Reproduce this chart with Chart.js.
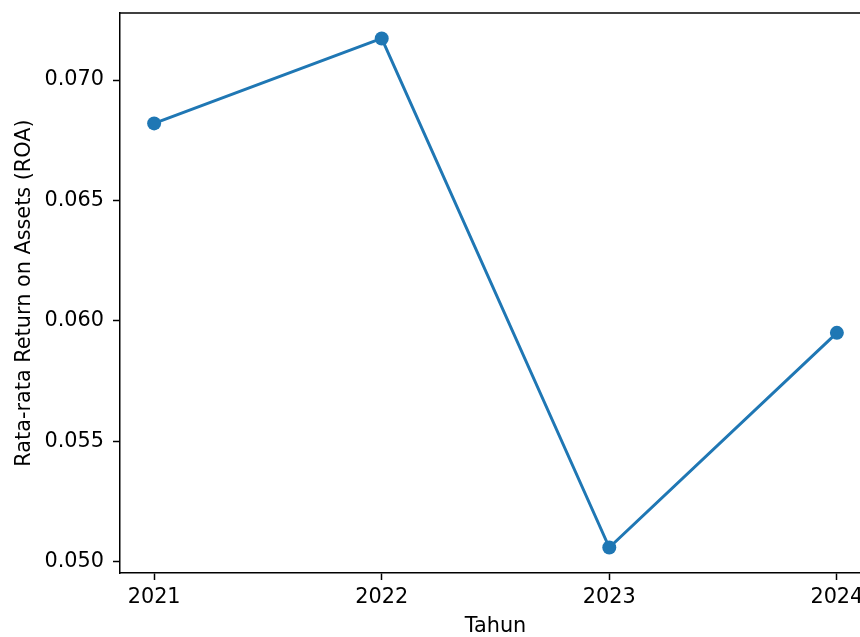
<!DOCTYPE html>
<html>
<head>
<meta charset="utf-8">
<style>
  html, body { margin: 0; padding: 0; background: #fff; overflow: hidden; width: 860px; height: 637px; }
  #wrap { position: relative; width: 860px; height: 637px; overflow: hidden; background: #fff; }
  #wrap canvas { position: absolute; left: 0; top: 0; display: block; }
</style>
<script src="https://cdn.jsdelivr.net/npm/chart.js@4/dist/chart.umd.min.js"></script>
</head>
<body>
<div id="wrap"><canvas id="roaChart" width="880" height="637" style="width:880px;height:637px"></canvas></div>
<script>
// Average Return on Assets per year
const years = [2021, 2022, 2023, 2024];
const roaValues = [0.0682, 0.07173, 0.05058, 0.0595];
const yTickValues = [0.050, 0.055, 0.060, 0.065, 0.070];
const xTitle = 'Tahun';
const yTitle = 'Rata-rata Return on Assets (ROA)';

const lineColor = '#1f77b4';
const fontFamily = '"DejaVu Sans", sans-serif';
const fontSize = 20.8;

// axis limits with a 5% margin around the data
const yMin = Math.min(...roaValues), yMax = Math.max(...roaValues);
const yPad = (yMax - yMin) * 0.05;
const xPad = (years[years.length - 1] - years[0]) * 0.05;

// draws the top spine of the plot frame (the right one lies outside the view)
const framePlugin = {
  id: 'frame',
  afterDraw(chart) {
    const { ctx, chartArea: a } = chart;
    ctx.save();
    ctx.strokeStyle = '#000';
    ctx.lineWidth = 1.5;
    ctx.beginPath();
    ctx.moveTo(a.left, a.top);
    ctx.lineTo(a.right, a.top);
    ctx.stroke();
    ctx.restore();
  }
};

new Chart(document.getElementById('roaChart'), {
  type: 'line',
  data: {
    datasets: [{
      data: years.map((y, i) => ({ x: y, y: roaValues[i] })),
      borderColor: lineColor,
      backgroundColor: lineColor,
      borderWidth: 3,
      tension: 0,
      pointRadius: 7,
      pointHoverRadius: 7,
      pointBackgroundColor: lineColor,
      pointBorderWidth: 0,
      fill: false
    }]
  },
  options: {
    responsive: false,
    maintainAspectRatio: false,
    devicePixelRatio: 1,
    animation: false,
    layout: { padding: { top: 13, right: 9, left: 0, bottom: 0 } },
    plugins: { legend: { display: false }, tooltip: { enabled: false } },
    scales: {
      x: {
        type: 'linear',
        min: years[0] - xPad,
        max: years[years.length - 1] + xPad,
        afterBuildTicks: s => { s.ticks = years.map(v => ({ value: v })); },
        afterFit: s => { s.height = 64; s.paddingLeft = 0; s.paddingRight = 0; },
        ticks: {
          color: '#000',
          font: { family: fontFamily, size: fontSize },
          padding: 5,
          maxRotation: 0,
          callback: v => String(v)
        },
        grid: { drawOnChartArea: false, drawTicks: true, tickLength: 7, tickWidth: 1.5, tickColor: '#000', color: '#000' },
        border: { display: true, color: '#000', width: 1.5 },
        title: {
          display: true,
          text: xTitle,
          color: '#000',
          font: { family: fontFamily, size: fontSize, lineHeight: 1 },
          padding: { top: 0, bottom: 0 }
        }
      },
      y: {
        type: 'linear',
        min: yMin - yPad,
        max: yMax + yPad,
        afterBuildTicks: s => { s.ticks = yTickValues.map(v => ({ value: v })); },
        afterFit: s => { s.width = 120; s.paddingTop = 0; s.paddingBottom = 0; },
        ticks: {
          color: '#000',
          font: { family: fontFamily, size: fontSize },
          padding: 9,
          callback: v => v.toFixed(3)
        },
        grid: { drawOnChartArea: false, drawTicks: true, tickLength: 7, tickWidth: 1.5, tickColor: '#000', color: '#000' },
        border: { display: true, color: '#000', width: 1.5 },
        title: {
          display: true,
          text: yTitle,
          color: '#000',
          font: { family: fontFamily, size: fontSize, lineHeight: 1 },
          padding: { top: 14, bottom: 0 }
        }
      }
    }
  },
  plugins: [framePlugin]
});
</script>
</body>
</html>
